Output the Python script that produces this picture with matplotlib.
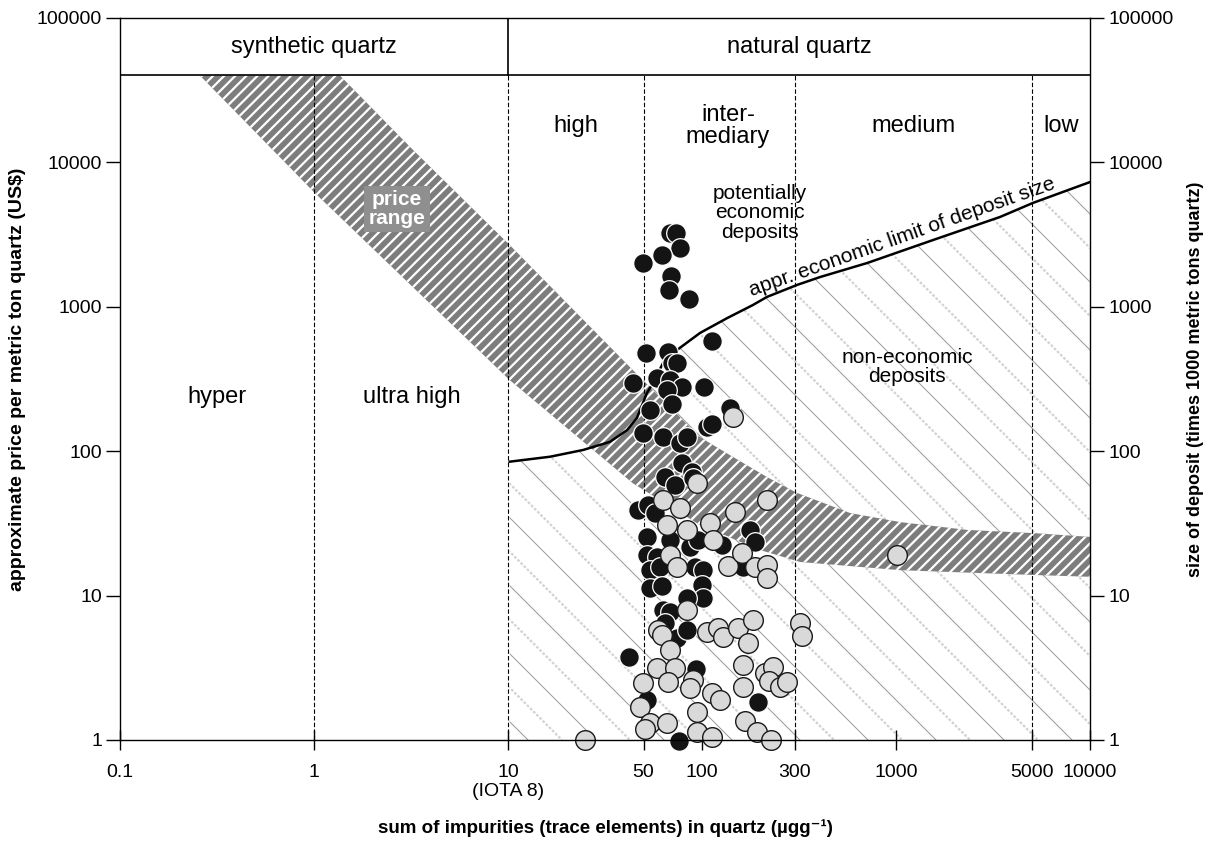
import numpy as np
import matplotlib
matplotlib.use("Agg")
import matplotlib.pyplot as plt
from matplotlib.patches import Polygon
from matplotlib.ticker import FixedLocator, FixedFormatter, NullLocator

plt.rcParams['font.family'] = ['Liberation Sans', 'DejaVu Sans']

# ---------------- data ----------------
x_ticks = [0.1, 1, 10, 50, 100, 300, 1000, 5000, 10000]
x_tick_labels = ['0.1', '1', '10\n(IOTA 8)', '50', '100', '300', '1000', '5000', '10000']
y_ticks = [1, 10, 100, 1000, 10000, 100000]
y_tick_labels = ['1', '10', '100', '1000', '10000', '100000']

class_bounds = [1, 10, 50, 300, 5000]
header_bottom = 40000

# price range band (upper-right edge and lower-left edge)
band_upper_x = [1.36, 3.24, 10.2, 44, 97.7, 144.5, 216, 309, 580, 1050, 2324, 5080, 10000]
band_upper_y = [40000, 12200, 2680, 365, 125, 91.2, 66.3, 51.4, 37.3, 32.3, 28.5, 27.1, 25.5]
band_lower_x = [0.258, 1.01, 10.2, 44, 97.7, 199, 320, 1050, 5080, 10000]
band_lower_y = [40000, 6140, 311, 60, 30.8, 20.7, 17.1, 15.0, 13.9, 13.5]

# approximate economic limit of deposit size
limit_x = [10.2, 16.5, 24.4, 33.5, 41.1, 46.2, 52, 55.9, 63, 74.3, 97.7, 135, 183, 216, 309,
           406, 710, 1552, 3436, 5080, 10000]
limit_y = [84.6, 91.6, 102, 116, 140, 170, 253, 297, 408, 502, 659, 836, 1029, 1170, 1417,
           1607, 2010, 2900, 4188, 5240, 7310]

# deposits (black)
black_x = [68.4, 73.5, 77, 62.2, 49.6, 69.2, 67.6, 85.7, 113, 51.4, 66.8, 70, 74.3, 44, 58.6,
           68.4, 78.9, 66, 102, 70, 53.9, 139, 106, 113, 49.6, 63, 77, 83.7, 78.9, 64.5,
           72.6, 88.8, 89.9, 46.8, 52.7, 57.3, 68.4, 86.7, 95.3, 127, 177, 187, 52, 52, 58.6,
           53.9, 60.8, 92, 101, 163, 53.9, 62.2, 100, 101, 83.7, 63, 68.4, 64.5, 74.3, 83.7,
           42, 93.1, 194, 52, 76.1]
black_y = [3245, 3245, 2554, 2285, 2011, 1634, 1307, 1132, 580, 479, 486, 408, 408, 297, 321,
           311, 278, 265, 278, 212, 193, 199, 147, 154, 134, 125, 114, 125, 82.8, 66.3,
           58.3, 71.8, 65.2, 39.2, 42.4, 37.3, 24.3, 21.7, 24.3, 22.4, 28.5, 23.5, 25.5, 19.1, 18.5,
           15.0, 15.8, 15.8, 15.0, 15.8, 11.3, 11.7, 11.8, 9.6, 9.6, 7.9, 7.7, 6.46, 5.09, 5.78,
           3.76, 3.1, 1.83, 1.89, 0.98]

# deposits (grey)
grey_x = [144, 94.2, 63, 77, 66, 83.7, 110, 114, 148, 216, 68.4, 74.3, 136, 161, 187,
          216, 216, 83.7, 59.3, 62.2, 68.4, 106, 121, 128, 153, 183, 173, 320, 328, 58.6,
          72.6, 49.6, 66.8, 89.9, 86.7, 163, 211, 232, 221, 252, 274, 163, 113, 124, 47.9,
          94.2, 53.9, 50.8, 66, 167, 192, 227, 94.2, 113, 24.9, 1012]
grey_y = [173, 60.2, 45.9, 40.4, 30.8, 28.5, 31.8, 24.3, 37.9, 45.9, 19.1, 15.8, 16.0, 19.7, 15.8,
          16.3, 13.2, 7.9, 5.78, 5.33, 4.2, 5.6, 5.97, 5.17, 5.97, 6.78, 4.69, 6.46, 5.25, 3.15,
          3.15, 2.48, 2.52, 2.6, 2.29, 3.31, 2.91, 3.2, 2.56, 2.33, 2.52, 2.33, 2.12, 1.89, 1.69,
          1.56, 1.31, 1.19, 1.31, 1.35, 1.14, 1.0, 1.14, 1.05, 1.0, 19.1]

# ---------------- figure ----------------
fig = plt.figure(figsize=(12.08, 8.41), dpi=100)
ax = fig.add_axes([120/1208, 1 - 740/841, 970/1208, 722/841])
ax.set_xscale('log')
ax.set_yscale('log')
ax.set_xlim(0.1, 10000)
ax.set_ylim(1, 100000)

# non-economic hatching (thin diagonal lines clipped to region under the limit curve)
reg_x = list(limit_x) + [10000, 10.2]
reg_y = list(limit_y) + [1, 1]
region = Polygon(np.column_stack([reg_x, reg_y]), closed=True, facecolor='none',
                 edgecolor='none', transform=ax.transData)
ax.add_patch(region)
W, H = 970.0, 722.0
step = 34.0
c_vals = np.arange(0, W + H + step, step)
for i, c in enumerate(c_vals):
    xs = np.array([(c - H) / W, c / W])
    ys = np.array([1.0, 0.0])
    if i % 2 == 0:
        ln, = ax.plot(xs, ys, transform=ax.transAxes, color='#999999', lw=0.7, zorder=1)
    else:
        ln, = ax.plot(xs, ys, transform=ax.transAxes, color='#d2d2d2', lw=1.6,
                      ls=(0, (1.2, 0.8)), zorder=1)
    ln.set_clip_path(region)

# price range band
plt.rcParams['hatch.linewidth'] = 1.6
bx = list(band_upper_x) + list(band_lower_x[::-1])
by = list(band_upper_y) + list(band_lower_y[::-1])
ax.fill(bx, by, facecolor='#7d7d7d', edgecolor='white', hatch='///', linewidth=0, zorder=2)

# class boundaries
for b in class_bounds:
    ax.plot([b, b], [1, header_bottom], color='black', lw=0.8, ls=(0, (4, 2)), zorder=3)

# economic limit curve
ax.plot(limit_x, limit_y, color='black', lw=1.8, zorder=3, solid_joinstyle='round')

# scatter points
ax.scatter(black_x, black_y, s=200, facecolor='#141414', edgecolor='white', linewidth=0.9,
           zorder=4, clip_on=False)
ax.scatter(grey_x, grey_y, s=200, facecolor='#d9d9d9', edgecolor='#1a1a1a', linewidth=1.0,
           zorder=5, clip_on=False)

# header box
ax.axhspan(header_bottom, 100000, facecolor='white', edgecolor='none', zorder=6)
ax.axhline(header_bottom, color='black', lw=1.2, zorder=7)
ax.plot([10, 10], [header_bottom, 100000], color='black', lw=1.2, zorder=7)
ax.text(1, 63000, 'synthetic quartz', ha='center', va='center', fontsize=17, zorder=8)
ax.text(316, 63000, 'natural quartz', ha='center', va='center', fontsize=17, zorder=8)

# region labels
ax.text(0.316, 237, 'hyper', ha='center', va='center', fontsize=17, zorder=8)
ax.text(3.2, 237, 'ultra high', ha='center', va='center', fontsize=17, zorder=8)
ax.text(22.4, 17870, 'high', ha='center', va='center', fontsize=17, zorder=8)
ax.text(136, 17870, 'inter-\nmediary', ha='center', va='center', fontsize=17,
        linespacing=1.0, zorder=8)
ax.text(1224, 17870, 'medium', ha='center', va='center', fontsize=17, zorder=8)
ax.text(7090, 17870, 'low', ha='center', va='center', fontsize=17, zorder=8)
ax.text(199, 4463, 'potentially\neconomic\ndeposits', ha='center', va='center',
        fontsize=15, linespacing=1.05, zorder=8)
ax.text(1140, 383, 'non-economic\ndeposits', ha='center', va='center', fontsize=15,
        linespacing=1.05, zorder=8)
ax.text(1074, 3043, 'appr. economic limit of deposit size', ha='center', va='center',
        fontsize=15, rotation=19.5, rotation_mode='anchor', zorder=8)
ax.text(2.68, 4755, 'price\nrange', ha='center', va='center', fontsize=15, color='white',
        fontweight='bold', linespacing=1.0, zorder=8,
        bbox=dict(boxstyle='square,pad=0.2', facecolor='#8f8f8f', edgecolor='none'))

# axes, ticks, labels
for s in ax.spines.values():
    s.set_linewidth(1.0)
    s.set_zorder(9)
ax.xaxis.set_major_locator(FixedLocator(x_ticks))
ax.xaxis.set_major_formatter(FixedFormatter(x_tick_labels))
ax.xaxis.set_minor_locator(NullLocator())
ax.yaxis.set_major_locator(FixedLocator(y_ticks))
ax.yaxis.set_major_formatter(FixedFormatter(y_tick_labels))
ax.yaxis.set_minor_locator(NullLocator())
ax.tick_params(axis='x', direction='inout', length=14, width=1, labelsize=14, pad=10)
ax.tick_params(axis='y', direction='out', length=10, width=1, labelsize=14, pad=3)
ax.set_xlabel('sum of impurities (trace elements) in quartz (µgg⁻¹)', fontsize=13.5,
              fontweight='bold', labelpad=14)
ax.set_ylabel('approximate price per metric ton quartz (US$)'.replace('$', r'\$'),
              fontsize=14, fontweight='bold', labelpad=8)

ax2 = ax.twinx()
ax2.set_yscale('log')
ax2.set_ylim(1, 100000)
ax2.yaxis.set_major_locator(FixedLocator(y_ticks))
ax2.yaxis.set_major_formatter(FixedFormatter(y_tick_labels))
ax2.yaxis.set_minor_locator(NullLocator())
ax2.tick_params(axis='y', direction='out', length=10, width=1, labelsize=14, pad=3)
ax2.set_ylabel('size of deposit (times 1000 metric tons quartz)', fontsize=13,
               fontweight='bold', labelpad=10)
for s in ax2.spines.values():
    s.set_visible(False)

fig.savefig('out.png', dpi=100)
